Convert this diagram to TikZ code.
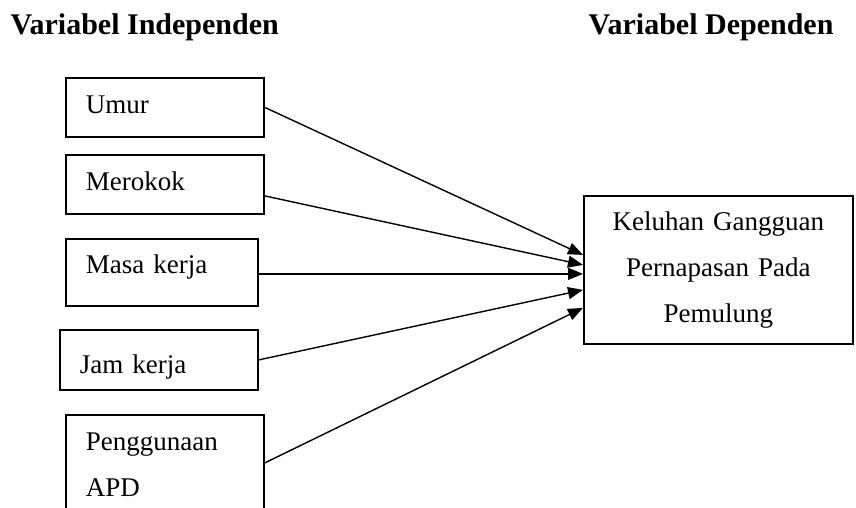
\documentclass[tikz,border=0pt]{standalone}
\usepackage{fontspec}
\setmainfont{Liberation Serif}
\usetikzlibrary{arrows.meta}

\tikzset{
  varbox/.style={draw,line width=1.8pt,anchor=north west,inner xsep=20pt,inner ysep=0pt,
    font=\fontsize{27}{46}\selectfont},
  satubaris/.style={align=left,text height=19pt,text depth=6pt},
  judul/.style={anchor=base west,inner sep=0pt,font=\fontsize{30}{36}\selectfont\bfseries}
}

\begin{document}
\begin{tikzpicture}[>={Triangle[length=15pt,width=12pt]},x=1pt,y=-1pt,line width=1.4pt]
                \clip (0,0) rectangle (856,508);
                % judul kolom
                \node[judul] (judulbebas) at (10,35) {Variabel Independen};
                \node[judul] (judulterikat) at (588,35) {Variabel Dependen};
                % variabel independen
                \node[varbox,satubaris,text width=158pt,minimum height=59pt] (umur) at (65,77) {Umur};
                \node[varbox,satubaris,text width=158pt,minimum height=59pt] (merokok) at (65,154) {Merokok};
                \node[varbox,satubaris,text height=15pt,text depth=12pt,text width=152pt,minimum height=67pt] (masakerja) at (65,238) {Masa kerja};
                \node[varbox,satubaris,text height=30pt,text depth=2pt,text width=158pt,minimum height=60pt] (jamkerja) at (59,329) {Jam kerja};
                \node[varbox,align=left,text width=158pt,minimum height=100pt] (apd) at (65,414) {Penggunaan\\APD};
                % variabel dependen
                \node[varbox,align=center,text width=229pt,minimum height=148pt] (keluhan) at (583,195)
                    {Keluhan Gangguan\\Pernapasan Pada\\Pemulung};
                \draw[->] (umur.east) -- ([yshift=15pt]keluhan.west);
                \draw[->] ([yshift=-11.5pt]merokok.east) -- ([yshift=5pt]keluhan.west);
                \draw[->] ([yshift=-1.5pt]masakerja.east) -- ([yshift=-4pt]keluhan.west);
                \draw[->] (jamkerja.east) -- ([yshift=-20pt]keluhan.west);
                \draw[->] ([yshift=2pt]apd.east) -- ([yshift=-38pt]keluhan.west);
            \end{tikzpicture}
\end{document}
